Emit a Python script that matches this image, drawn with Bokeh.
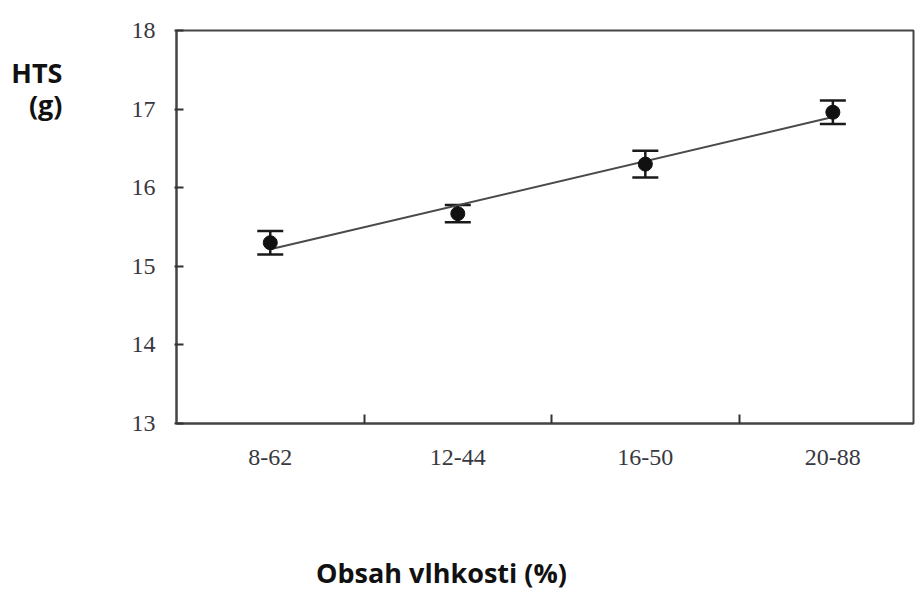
import numpy as np
from bokeh.plotting import figure
from bokeh.models import ColumnDataSource, Whisker, FixedTicker, Range1d, LinearAxis
from bokeh.embed import file_html
from bokeh.resources import INLINE

# ---- data ----
categories = ["8-62", "12-44", "16-50", "20-88"]
hts_mean = [15.30, 15.67, 16.30, 16.96]
hts_err = [0.15, 0.11, 0.17, 0.15]
y_ticks = [13, 14, 15, 16, 17, 18]
y_label_lines = ["HTS", "(g)"]
x_label = "Obsah vlhkosti (%)"

xpos = [i + 0.5 for i in range(len(categories))]
upper = [m + e for m, e in zip(hts_mean, hts_err)]
lower = [m - e for m, e in zip(hts_mean, hts_err)]
src = ColumnDataSource(dict(x=xpos, y=hts_mean, upper=upper, lower=lower))

# linear trend fitted to the means
k, b = np.polyfit(xpos, hts_mean, 1)
trend_x = [xpos[0], xpos[-1]]
trend_y = [k * v + b for v in trend_x]

W, H = 915, 593
p = figure(width=W, height=H, output_backend="svg", toolbar_location=None,
           x_range=Range1d(0, 3.93), y_range=Range1d(13, 18),
           min_border_left=176, min_border_right=2, min_border_top=30,
           min_border_bottom=166)
p.grid.visible = False
p.background_fill_color = "white"
p.border_fill_color = "white"
p.outline_line_color = "#444444"
p.outline_line_width = 2

tick_font = "Liberation Serif"
tick_color = "#383840"

# x axis: labels at category centres, ticks on category borders
xa = p.xaxis[0]
xa.ticker = FixedTicker(ticks=xpos, minor_ticks=[1, 2, 3])
xa.major_label_overrides = {v: c for v, c in zip(xpos, categories)}
xa.major_tick_in = 0
xa.major_tick_out = 0
xa.minor_tick_in = 9
xa.minor_tick_out = 0
xa.minor_tick_line_width = 2
xa.minor_tick_line_color = "#333333"
xa.axis_line_width = 2
xa.axis_line_color = "#444444"
xa.major_label_text_font = tick_font
xa.major_label_text_font_size = "24px"
xa.major_label_text_color = tick_color
xa.major_label_standoff = 26

ya = p.yaxis[0]
ya.ticker = FixedTicker(ticks=y_ticks)
ya.major_tick_in = 7
ya.major_tick_out = 2
ya.major_tick_line_width = 2
ya.major_tick_line_color = "#333333"
ya.minor_tick_line_color = None
ya.axis_line_width = 2
ya.axis_line_color = "#444444"
ya.major_label_text_font = tick_font
ya.major_label_text_font_size = "24px"
ya.major_label_text_color = tick_color
ya.major_label_standoff = 19

# axis titles placed as the labels of extra, line-less axes
lab_font = "Open Sans"
xt_pos = 1.413
xtitle = LinearAxis(ticker=FixedTicker(ticks=[xt_pos], minor_ticks=[]),
                    major_label_overrides={xt_pos: x_label},
                    axis_line_color=None, major_tick_line_color=None,
                    minor_tick_line_color=None,
                    major_label_text_font=lab_font,
                    major_label_text_font_style="bold",
                    major_label_text_font_size="27px",
                    major_label_text_color="#111111",
                    major_label_standoff=80)
p.add_layout(xtitle, "below")

yt_pos = [17.46, 17.06]
ytitle = LinearAxis(ticker=FixedTicker(ticks=yt_pos, minor_ticks=[]),
                    major_label_overrides={v: t for v, t in zip(yt_pos, y_label_lines)},
                    axis_line_color=None, major_tick_line_color=None,
                    minor_tick_line_color=None,
                    major_label_text_font=lab_font,
                    major_label_text_font_style="bold",
                    major_label_text_font_size="27px",
                    major_label_text_color="#111111",
                    major_label_standoff=60)
p.add_layout(ytitle, "left")

# trend line
p.line(trend_x, trend_y, line_color="#4a4a4a", line_width=2)

# error bars
wh = Whisker(source=src, base="x", upper="upper", lower="lower",
             line_color="#1a1a1a", line_width=2.5)
for head in (wh.upper_head, wh.lower_head):
    head.size = 26
    head.line_width = 2.5
    head.line_color = "#1a1a1a"
p.add_layout(wh)

p.scatter("x", "y", source=src, size=14, fill_color="#111111", line_color="#111111")

open("out.html", "w").write(file_html(p, INLINE))
